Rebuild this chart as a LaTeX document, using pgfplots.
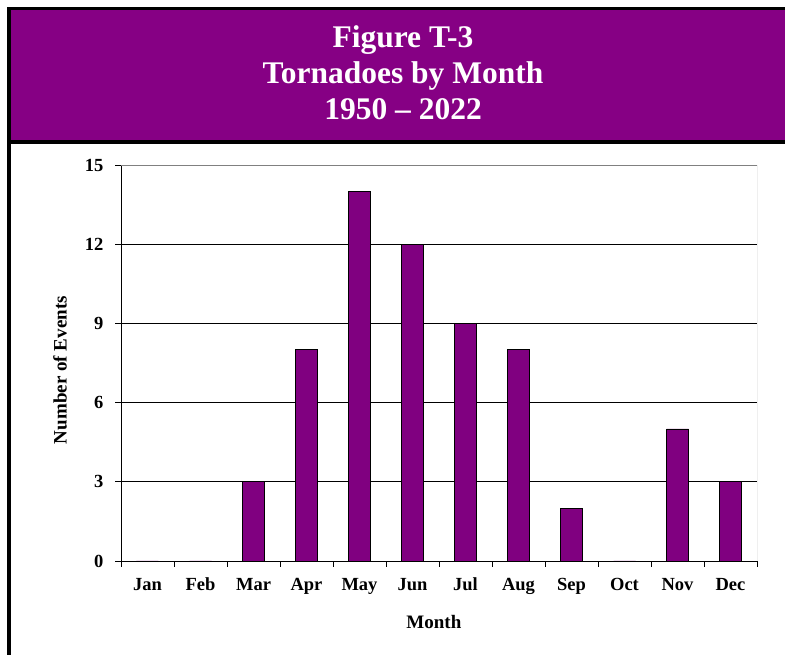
\documentclass[border=0pt]{standalone}
\usepackage{fontspec}
\setmainfont{Liberation Serif}
\usepackage{pgfplots}
\pgfplotsset{compat=1.18}
\definecolor{titlepurple}{HTML}{860084}
\definecolor{barpurple}{HTML}{800080}
\pgfplotstableread{
x val
0 0
1 0
2 3
3 8
4 14
5 12
6 9
7 8
8 2
9 0
10 5
11 3
}\tornadodata
\begin{document}
\begin{tikzpicture}[x=1pt,y=1pt]
\useasboundingbox (0,0) rectangle (785,655);
\fill[white] (0,0) rectangle (785,655);
\fill[titlepurple] (9,513) rectangle (785,646.5);
\draw[line width=3.5pt] (785,646.5) -- (9,646.5) -- (9,0);
\draw[line width=3.5pt] (9,513) -- (785,513);
\node[text=white, font=\fontsize{31.5}{36}\selectfont\bfseries, anchor=base] at (403,607) {Figure T-3};
\node[text=white, font=\fontsize{31.5}{36}\selectfont\bfseries, anchor=base] at (403,571) {Tornadoes by Month};
\node[text=white, font=\fontsize{31.5}{36}\selectfont\bfseries, anchor=base] at (403,535) {1950 – 2022};
\begin{axis}[
  at={(121pt,94pt)}, anchor=south west,
  scale only axis, width=636pt, height=396pt,
  xmin=-0.5, xmax=11.5, ymin=0, ymax=15,
  axis lines*=left, axis line style={-, black, line width=0.7pt},
  ytick={0,3,...,15},
  ymajorgrids, grid style={black, line width=0.6pt},
  xtick={0,...,11},
  xticklabels={Jan,Feb,Mar,Apr,May,Jun,Jul,Aug,Sep,Oct,Nov,Dec},
  minor xtick={-0.5,0.5,...,11.5},
  major x tick style={draw=none},
  tick style={black, line width=0.6pt},
  tick align=outside, major tick length=6pt, minor tick length=6pt,
  ticklabel style={font=\fontsize{18.5}{22}\selectfont\bfseries},
  xticklabel style={yshift=-7pt, text height=12.5pt, text depth=4pt},
  yticklabel style={xshift=-8pt},
  /pgf/number format/assume math mode=true,
  xlabel={Month}, ylabel={Number of Events},
  label style={font=\fontsize{19}{22}\selectfont\bfseries},
  xlabel style={at={(axis description cs:0.492,-0.154)}, anchor=center},
  ylabel style={at={(axis description cs:-0.096,0.482)}, anchor=center},
]
\addplot[ybar, bar width=22pt, fill=barpurple, draw=black, line width=0.6pt] table[x=x, y=val] {\tornadodata};
\draw[gray, line width=0.8pt] (rel axis cs:0,1) -- (rel axis cs:1,1) -- (rel axis cs:1,0);
\end{axis}
\end{tikzpicture}
\end{document}
